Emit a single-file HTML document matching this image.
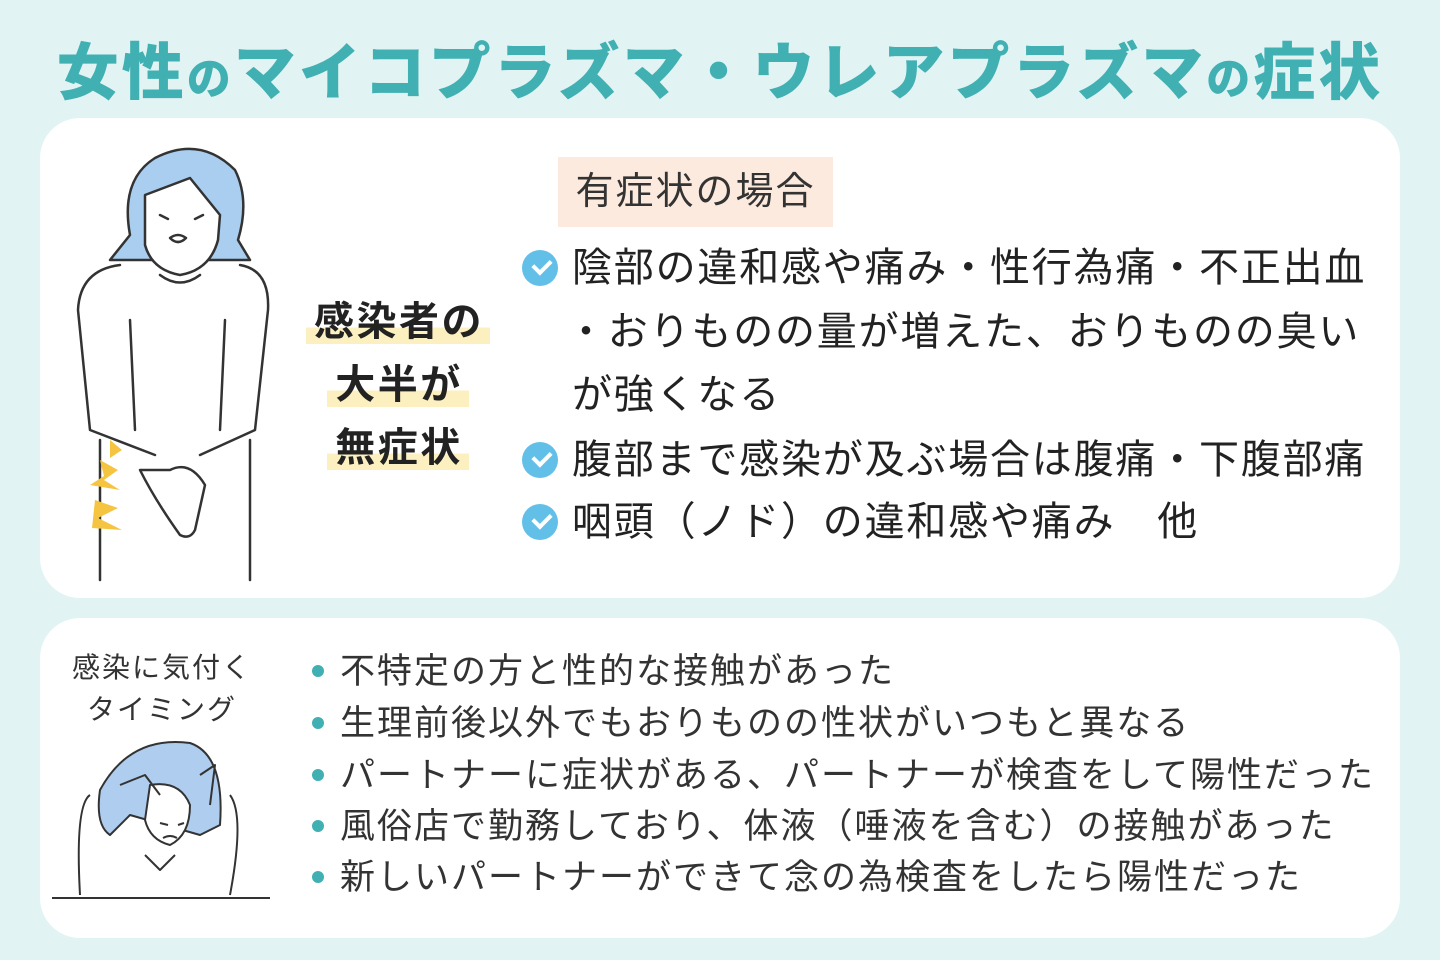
<!DOCTYPE html>
<html><head><meta charset="utf-8"><style>
*{margin:0;padding:0;box-sizing:border-box}
body{width:1440px;height:960px;background:#e1f3f3;position:relative;overflow:hidden;font-family:"Liberation Sans","Noto Sans CJK JP",sans-serif;color:#333}
.t{position:absolute;left:0;top:22px;width:1440px;text-align:center;color:#41b0b2;font-weight:900;font-size:62px;letter-spacing:3px;white-space:nowrap}
.t small{font-size:44px}
.card{position:absolute;left:40px;width:1360px;background:#fff;border-radius:40px}
.a{position:absolute;white-space:nowrap}
.h{left:558px;top:157px;width:275px;height:70px;background:#fdeade;font-size:38px;line-height:70px;text-align:center;color:#333;letter-spacing:2px}
.l{font-size:40px;left:572px;line-height:40px;letter-spacing:1.8px;color:#222}
.ck{position:absolute;left:522px;width:36px;height:36px;border-radius:50%;background:#62bfe8}
.ck:after{content:"";position:absolute;left:11px;top:9px;width:14px;height:8px;border-left:4px solid #fff;border-bottom:4px solid #fff;transform:rotate(-45deg)}
.m{font-size:40px;font-weight:700;left:290px;width:216px;text-align:center;line-height:44px;color:#222;letter-spacing:2.5px}
.m span{background:linear-gradient(transparent 62%,#fdf0c0 62%);padding:0 6px 0 8px}
.b{font-size:35px;left:312px;line-height:40px;color:#333;letter-spacing:2px}
.b:before{content:"";display:inline-block;width:12px;height:12px;border-radius:50%;background:#41b0b2;margin-right:16px;vertical-align:middle;position:relative;top:-3px}
.lab{font-size:28px;left:60px;width:204px;text-align:center;line-height:42px;color:#333;letter-spacing:2px}
</style></head><body>
<div class="t">女性<small>の</small>マイコプラズマ・ウレアプラズマ<small>の</small>症状</div>
<div class="card" style="top:118px;height:480px"></div>
<div class="card" style="top:618px;height:320px"></div>

<svg class="a" style="left:60px;top:140px" width="240" height="445" viewBox="0 0 240 445">
<g stroke="#333" stroke-width="2.5" fill="none" stroke-linejoin="round" stroke-linecap="round">
<path d="M70 95 Q60 40 95 18 Q140 -5 175 30 Q190 60 178 100 L190 120 L50 120 Z" fill="#a9cef0"/>
<path d="M85 55 L130 38 L160 75 L158 100 Q150 130 120 135 Q92 130 85 105 Z" fill="#fff"/>
<path d="M110 98 Q118 92 126 98 Q118 106 110 98Z"/>
<path d="M100 75 L108 79 M135 79 L143 75"/>
<path d="M100 135 Q120 150 140 135"/>
<path d="M60 125 Q20 130 18 170 L30 290 L95 315 M180 125 Q210 130 208 170 L195 290 L140 315"/>
<path d="M70 180 L75 290 M165 180 L160 290"/>
<path d="M40 300 L40 440 M190 300 L190 440"/>
<path d="M80 330 Q95 360 120 395 Q130 400 135 390 L145 345 Q130 320 110 330 Z" fill="#fff"/>
</g>
<g fill="#f5c542"><path d="M40 320 L58 330 L44 340 L60 350 L30 345 L44 336Z"/><path d="M35 360 L58 368 L38 378 L62 390 L32 388Z"/><path d="M50 300 L62 310 L50 318Z"/></g>
</svg>

<div class="a h">有症状の場合</div>
<div class="ck" style="top:250px"></div>
<div class="a l" style="top:248px">陰部の違和感や痛み・性行為痛・不正出血</div>
<div class="a l" style="top:312px;left:566px">・おりものの量が増えた、おりものの臭い</div>
<div class="a l" style="top:375px">が強くなる</div>
<div class="ck" style="top:442px"></div>
<div class="a l" style="top:440px">腹部まで感染が及ぶ場合は腹痛・下腹部痛</div>
<div class="ck" style="top:504px"></div>
<div class="a l" style="top:502px">咽頭（ノド）の違和感や痛み　他</div>

<div class="a m" style="top:300px"><span>感染者の</span></div>
<div class="a m" style="top:363px"><span>大半が</span></div>
<div class="a m" style="top:426px"><span>無症状</span></div>

<div class="a lab" style="top:647px">感染に気付く<br>タイミング</div>
<svg class="a" style="left:50px;top:735px" width="225" height="170" viewBox="0 0 225 170">
<g stroke="#333" stroke-width="2" fill="none" stroke-linejoin="round">
<path d="M50 55 Q80 0 140 8 Q175 20 170 90 L150 100 L80 80 L60 100 Q45 90 50 55Z" fill="#afcdef"/>
<path d="M100 50 Q130 45 140 70 Q140 100 120 110 Q100 105 95 85Z" fill="#fff"/>
<path d="M40 60 Q25 70 30 160 M180 60 Q195 80 180 160 M95 120 L110 135 L125 120"/>
<path d="M70 50 L95 40 L110 60 M150 40 L165 30 L160 70"/>
<path d="M110 88 L118 90 M128 90 L134 88 M113 103 Q120 99 127 103"/>
<path d="M2 163 L220 163"/>
</g></svg>

<div class="a b" style="top:652px">不特定の方と性的な接触があった</div>
<div class="a b" style="top:704px">生理前後以外でもおりものの性状がいつもと異なる</div>
<div class="a b" style="top:756px">パートナーに症状がある、パートナーが検査をして陽性だった</div>
<div class="a b" style="top:807px">風俗店で勤務しており、体液（唾液を含む）の接触があった</div>
<div class="a b" style="top:858px">新しいパートナーができて念の為検査をしたら陽性だった</div>
</body></html>
